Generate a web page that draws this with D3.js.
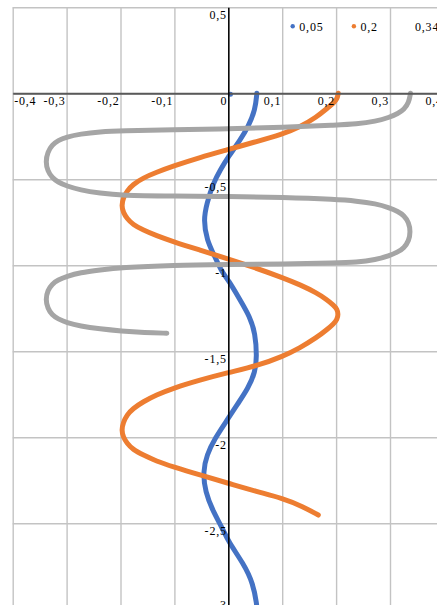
<!DOCTYPE html>
<html>
<head>
<meta charset="utf-8">
<script src="https://cdn.jsdelivr.net/npm/d3@7/dist/d3.min.js"></script>
<style>
  html, body { margin: 0; padding: 0; background: #fff; }
  svg { display: block; }
  text { font-family: "Liberation Serif", "Times New Roman", "DejaVu Serif", serif; font-size: 12px; fill: #000; letter-spacing: 0.8px; }
</style>
</head>
<body>
<svg id="chart" width="437" height="605"></svg>
<script>
// Axis ticks and their labels (decimal comma)
const xTicks = [-0.4, -0.3, -0.2, -0.1, 0, 0.1, 0.2, 0.3, 0.4];
const xTickLabels = ["-0,4", "-0,3", "-0,2", "-0,1", "0", "0,1", "0,2", "0,3", "0,4"];
const yTicks = [0.5, 0, -0.5, -1, -1.5, -2, -2.5, -3];
const yTickLabels = ["0,5", "", "-0,5", "-1", "-1,5", "-2", "-2,5", "-3"];

// Series names and colours
const seriesNames = ["0,05", "0,2", "0,34"];
const seriesColors = ["#4472C4", "#ED7D31", "#A5A5A5"];

// Series 0,05
const s005x = [0.053, 0.050, 0.037, 0.022, 0.000, -0.015, -0.028, -0.040, -0.046, -0.040, -0.025, -0.012, 0.000, 0.022, 0.040, 0.050, 0.053, 0.050, 0.037, 0.016, 0.000, -0.025, -0.040, -0.047, -0.043, -0.028, -0.012, 0.000, 0.028, 0.046, 0.053, 0.053];
const s005y = [0.000, -0.097, -0.194, -0.272, -0.369, -0.446, -0.523, -0.640, -0.737, -0.853, -0.950, -1.039, -1.085, -1.202, -1.299, -1.395, -1.531, -1.619, -1.715, -1.812, -1.890, -2.006, -2.103, -2.200, -2.316, -2.433, -2.521, -2.607, -2.733, -2.849, -2.975, -3.000];

// Series 0,2
const s02x = [0.204, 0.202, 0.195, 0.183, 0.164, 0.133, 0.101, 0.046, 0.000, -0.053, -0.102, -0.134, -0.158, -0.177, -0.188, -0.195, -0.198, -0.195, -0.188, -0.177, -0.158, -0.134, -0.102, -0.053, 0.000, 0.046, 0.101, 0.133, 0.164, 0.183, 0.195, 0.202, 0.204, 0.202, 0.195, 0.183, 0.164, 0.133, 0.101, 0.053, 0.000, -0.053, -0.103, -0.134, -0.158, -0.177, -0.188, -0.195, -0.198, -0.195, -0.188, -0.177, -0.158, -0.134, -0.103, -0.053, 0.000, 0.053, 0.101, 0.139, 0.167];
const s02y = [0.000, -0.032, -0.058, -0.088, -0.138, -0.196, -0.237, -0.286, -0.327, -0.373, -0.423, -0.460, -0.492, -0.530, -0.568, -0.609, -0.652, -0.693, -0.728, -0.763, -0.795, -0.827, -0.863, -0.911, -0.963, -1.010, -1.072, -1.113, -1.160, -1.200, -1.231, -1.255, -1.284, -1.315, -1.341, -1.374, -1.420, -1.480, -1.530, -1.585, -1.623, -1.667, -1.715, -1.754, -1.793, -1.833, -1.870, -1.914, -1.958, -1.998, -2.035, -2.071, -2.103, -2.138, -2.171, -2.219, -2.267, -2.316, -2.355, -2.403, -2.452];

// Series 0,34
const s034x = [0.338, 0.335, 0.326, 0.315, 0.298, 0.274, 0.237, 0.201, 0.101, 0.000, -0.102,
  -0.199, -0.238, -0.275, -0.300, -0.316, -0.327, -0.335, -0.339, -0.335, -0.327, -0.316, -0.300, -0.275, -0.238, -0.199, -0.102, 0.000, 0.101,
  0.201, 0.237, 0.274, 0.298, 0.315, 0.326, 0.335, 0.338, 0.335, 0.326, 0.315, 0.298, 0.274, 0.237, 0.201, 0.101, 0.000, -0.102,
  -0.199, -0.238, -0.275, -0.300, -0.316, -0.327, -0.335, -0.339, -0.335, -0.327, -0.316, -0.300, -0.275, -0.238, -0.199, -0.155, -0.114];
const s034y = [0.000, -0.053, -0.094, -0.117, -0.141, -0.163, -0.179, -0.184, -0.199, -0.206, -0.212,
  -0.217, -0.223, -0.237, -0.254, -0.274, -0.301, -0.341, -0.398, -0.452, -0.490, -0.516, -0.539, -0.562, -0.581, -0.594, -0.597, -0.600, -0.605,
  -0.617, -0.626, -0.642, -0.664, -0.687, -0.710, -0.751, -0.805, -0.858, -0.899, -0.922, -0.945, -0.967, -0.983, -0.987, -0.992, -0.996, -1.000,
  -1.013, -1.027, -1.042, -1.065, -1.085, -1.109, -1.146, -1.198, -1.251, -1.289, -1.312, -1.333, -1.353, -1.370, -1.382, -1.391, -1.395];

// Single marker of the first series near the origin
const originMarkerX = [0.004];
const originMarkerY = [-0.005];

const seriesX = [s005x, s02x, s034x];
const seriesY = [s005y, s02y, s034y];

const FONT = "'Liberation Serif', 'Times New Roman', 'DejaVu Serif', serif";
const svg = d3.select("#chart");

const x = d3.scaleLinear().domain([-0.4, 0.4]).range([12.7, 443.9]);
const y = d3.scaleLinear().domain([-3, 0.5]).range([609.3, 7.3]);

const plotTop = y(0.5), plotBottom = y(-3), plotLeft = x(-0.4), plotRight = x(0.4);

// Gridlines
const gridColor = "#c3c3c3";
const vGrid = svg.append("g")
  .attr("transform", `translate(0,${plotBottom})`)
  .call(d3.axisBottom(x).tickValues(xTicks).tickSize(-(plotBottom - plotTop)).tickFormat(""));
const hGrid = svg.append("g")
  .attr("transform", `translate(${plotLeft},0)`)
  .call(d3.axisLeft(y).tickValues(yTicks).tickSize(-(plotRight - plotLeft)).tickFormat(""));
[vGrid, hGrid].forEach(g => {
  g.select(".domain").remove();
  g.selectAll(".tick line").attr("stroke", gridColor).attr("stroke-width", 1.4);
});

// Series lines (smoothed)
const line = d3.line()
  .x(d => x(d[0]))
  .y(d => y(d[1]))
  .curve(d3.curveBasis);

seriesX.forEach((xs, i) => {
  const pts = xs.map((v, j) => [v, seriesY[i][j]]);
  svg.append("path")
    .attr("d", line(pts))
    .attr("fill", "none")
    .attr("stroke", seriesColors[i])
    .attr("stroke-width", 5)
    .attr("stroke-linecap", "round")
    .attr("stroke-linejoin", "round");
});

svg.selectAll(".origin-marker")
  .data(originMarkerX.map((v, j) => [v, originMarkerY[j]]))
  .join("circle")
  .attr("class", "origin-marker")
  .attr("cx", d => x(d[0]))
  .attr("cy", d => y(d[1]))
  .attr("r", 2.5)
  .attr("fill", seriesColors[0]);

// Horizontal axis through y = 0
const xAxis = svg.append("g")
  .attr("transform", `translate(0,${y(0)})`)
  .call(d3.axisBottom(x).tickValues(xTicks).tickSize(0).tickSizeOuter(0)
    .tickFormat((d, i) => xTickLabels[i]));
xAxis.attr("font-family", FONT).attr("font-size", 12);
xAxis.select(".domain").attr("stroke", "#595959").attr("stroke-width", 2);
xAxis.selectAll(".tick text")
  .attr("y", 11.7)
  .attr("dy", 0)
  .attr("x", (d, i) => i === 0 ? 1 : -1.5)
  .attr("text-anchor", (d, i) => i === 0 ? "start" : "end")
  .attr("font-family", FONT);

// Vertical axis through x = 0
const yAxis = svg.append("g")
  .attr("transform", `translate(${x(0)},0)`)
  .call(d3.axisLeft(y).tickValues(yTicks).tickSize(0).tickSizeOuter(0)
    .tickFormat((d, i) => yTickLabels[i]));
yAxis.attr("font-family", FONT).attr("font-size", 12);
yAxis.select(".domain").attr("stroke", "#000").attr("stroke-width", 1.5);
yAxis.selectAll(".tick text")
  .attr("x", -1.5)
  .attr("dy", 0)
  .attr("y", d => Math.min(11.2, plotBottom - 0.5 - y(d)))
  .attr("text-anchor", "end")
  .attr("font-family", FONT);

// Legend
const legendItems = [
  { name: seriesNames[0], color: seriesColors[0], tx: 299.3, dot: true },
  { name: seriesNames[1], color: seriesColors[1], tx: 360.5, dot: true },
  { name: seriesNames[2], color: seriesColors[2], tx: 415, dot: false }
];
const legend = svg.append("g");
legendItems.forEach(it => {
  if (it.dot) {
    legend.append("circle")
      .attr("cx", it.tx - 6.6)
      .attr("cy", 26.2)
      .attr("r", 2.2)
      .attr("fill", it.color);
  }
  legend.append("text")
    .attr("x", it.tx)
    .attr("y", 30.7)
    .attr("font-family", FONT)
    .text(it.name);
});
</script>
</body>
</html>
